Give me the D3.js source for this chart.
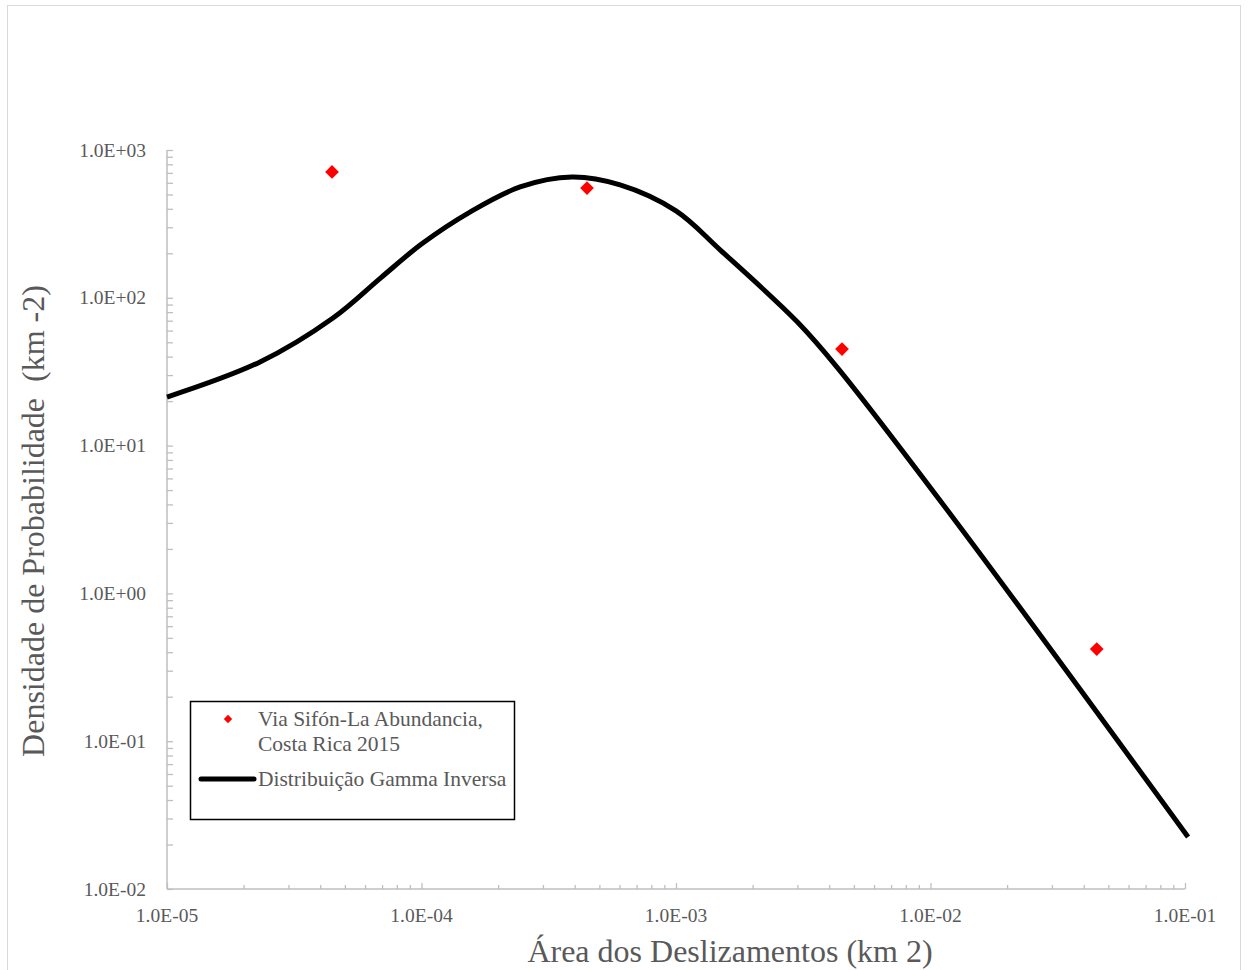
<!DOCTYPE html>
<html>
<head>
<meta charset="utf-8">
<script src="https://cdn.jsdelivr.net/npm/d3@7"></script>
<style>
  html, body { margin: 0; padding: 0; background: #fff; }
  svg { display: block; }
  text { font-family: "Liberation Serif", "Times New Roman", serif; fill: #595959; white-space: pre; }
</style>
</head>
<body>
<svg id="chart" width="1249" height="970"></svg>
<script>
// Observed landslide areas (km²) and their probability densities (km⁻²)
const obsArea = [4.45e-5, 4.47e-4, 4.49e-3, 4.5e-2];
const obsDensity = [710, 553, 45, 0.42];

// Fitted inverse gamma density, sampled along the area axis
const fitArea = [1e-5, 2.32e-5, 4.49e-5, 6.9e-5, 1e-4, 1.55e-4, 2.44e-4,
                 3.9e-4, 6.03e-4, 1e-3, 1.49e-3, 3e-3, 4.29e-3, 1.22e-2, 1.028e-1];
const fitDensity = [21.3, 36.8, 73, 136, 231, 380, 562,
                    656, 580, 387, 211, 68.6, 34, 3.29, 0.0225];

const xTickValues = [1e-5, 1e-4, 1e-3, 1e-2, 1e-1];
const xTickLabels = ["1.0E-05", "1.0E-04", "1.0E-03", "1.0E-02", "1.0E-01"];
const yTickValues = [1e-2, 1e-1, 1e0, 1e1, 1e2, 1e3];
const yTickLabels = ["1.0E-02", "1.0E-01", "1.0E+00", "1.0E+01", "1.0E+02", "1.0E+03"];

const legendLabels = ["Via Sifón-La Abundancia,", "Costa Rica 2015", "Distribuição Gamma Inversa"];
const xTitle = "Área dos Deslizamentos (km 2)";
const yTitle = "Densidade de Probabilidade  (km -2)";

const svg = d3.select("#chart");

// outer frame
svg.append("rect")
  .attr("x", 7.5).attr("y", 5.5).attr("width", 1233).attr("height", 970)
  .attr("fill", "none").attr("stroke", "#d9d9d9").attr("stroke-width", 1);

const plot = { left: 167, right: 1185, top: 150, bottom: 889 };

const x = d3.scaleLog().domain([1e-5, 1e-1]).range([plot.left, plot.right]);
const y = d3.scaleLog().domain([1e-2, 1e3]).range([plot.bottom, plot.top]);

// minor tick positions 2..9 per decade
function minorTicks(domain) {
  const out = [];
  const lo = Math.round(Math.log10(domain[0])), hi = Math.round(Math.log10(domain[1]));
  for (let e = lo; e < hi; e++) {
    for (let m = 2; m <= 9; m++) out.push(m * Math.pow(10, e));
  }
  return out;
}

const axisColor = "#bfbfbf";

// X axis (ticks point into the plot)
const gx = svg.append("g").attr("transform", `translate(0,${plot.bottom})`);
gx.append("g").call(d3.axisTop(x).tickValues(minorTicks(x.domain())).tickSize(4).tickFormat(""))
  .call(g => g.select(".domain").remove());
gx.append("g").call(d3.axisTop(x).tickValues(xTickValues).tickSize(6).tickFormat(""))
  .call(g => g.select(".domain").remove());
gx.selectAll("line").attr("stroke", axisColor).attr("stroke-width", 1.3);
gx.append("line").attr("x1", plot.left).attr("x2", plot.right).attr("y1", 0).attr("y2", 0)
  .attr("stroke", axisColor).attr("stroke-width", 1.5);
gx.selectAll("text.xl").data(xTickValues).join("text")
  .attr("class", "xl")
  .attr("x", d => x(d)).attr("y", 33)
  .attr("text-anchor", "middle")
  .style("font-size", "19.5px")
  .text((d, i) => xTickLabels[i]);

// Y axis (ticks point into the plot)
const gy = svg.append("g").attr("transform", `translate(${plot.left},0)`);
gy.append("g").call(d3.axisRight(y).tickValues(minorTicks(y.domain())).tickSize(6).tickFormat(""))
  .call(g => g.select(".domain").remove());
gy.append("g").call(d3.axisRight(y).tickValues(yTickValues).tickSize(6).tickFormat(""))
  .call(g => g.select(".domain").remove());
gy.selectAll("line").attr("stroke", axisColor).attr("stroke-width", 1.3);
gy.append("line").attr("x1", 0).attr("x2", 0).attr("y1", plot.top).attr("y2", plot.bottom)
  .attr("stroke", axisColor).attr("stroke-width", 1.5);
gy.selectAll("text.yl").data(yTickValues).join("text")
  .attr("class", "yl")
  .attr("x", -21).attr("y", d => y(d) + 6.5)
  .attr("text-anchor", "end")
  .style("font-size", "19.5px")
  .text((d, i) => yTickLabels[i]);

// axis titles
svg.append("text")
  .attr("x", 730).attr("y", 962)
  .attr("text-anchor", "middle")
  .style("font-size", "32px")
  .text(xTitle);
svg.append("text")
  .attr("transform", "translate(44,521) rotate(-90)")
  .attr("text-anchor", "middle")
  .style("font-size", "32px")
  .text(yTitle);

// fitted curve
const fitPts = fitArea.map((a, i) => [a, fitDensity[i]]);
svg.append("path")
  .datum(fitPts)
  .attr("fill", "none")
  .attr("stroke", "#000")
  .attr("stroke-width", 5)
  .attr("stroke-linejoin", "round")
  .attr("d", d3.line().x(d => x(d[0])).y(d => y(d[1])).curve(d3.curveCatmullRom.alpha(0.5)));

// observed points as diamonds
const diamond = d3.symbol().type(d3.symbolDiamond2);
svg.selectAll("path.obs").data(obsArea).join("path")
  .attr("class", "obs")
  .attr("transform", (d, i) => `translate(${x(d)},${y(obsDensity[i])})`)
  .attr("d", diamond.size(120)())
  .attr("fill", "#ff0000");

// legend
const lg = svg.append("g");
lg.append("rect")
  .attr("x", 190.5).attr("y", 701.5).attr("width", 324).attr("height", 118)
  .attr("fill", "#fff").attr("stroke", "#000").attr("stroke-width", 1.5);
lg.append("path")
  .attr("transform", "translate(228,719)")
  .attr("d", d3.symbol().type(d3.symbolDiamond2).size(45)())
  .attr("fill", "#ff0000");
lg.append("line")
  .attr("x1", 201).attr("x2", 254).attr("y1", 779).attr("y2", 779)
  .attr("stroke", "#000").attr("stroke-width", 5).attr("stroke-linecap", "round");
lg.selectAll("text").data(legendLabels).join("text")
  .attr("x", 258)
  .attr("y", (d, i) => [726, 751, 786][i])
  .style("font-size", "21.5px")
  .text(d => d);
</script>
</body>
</html>
